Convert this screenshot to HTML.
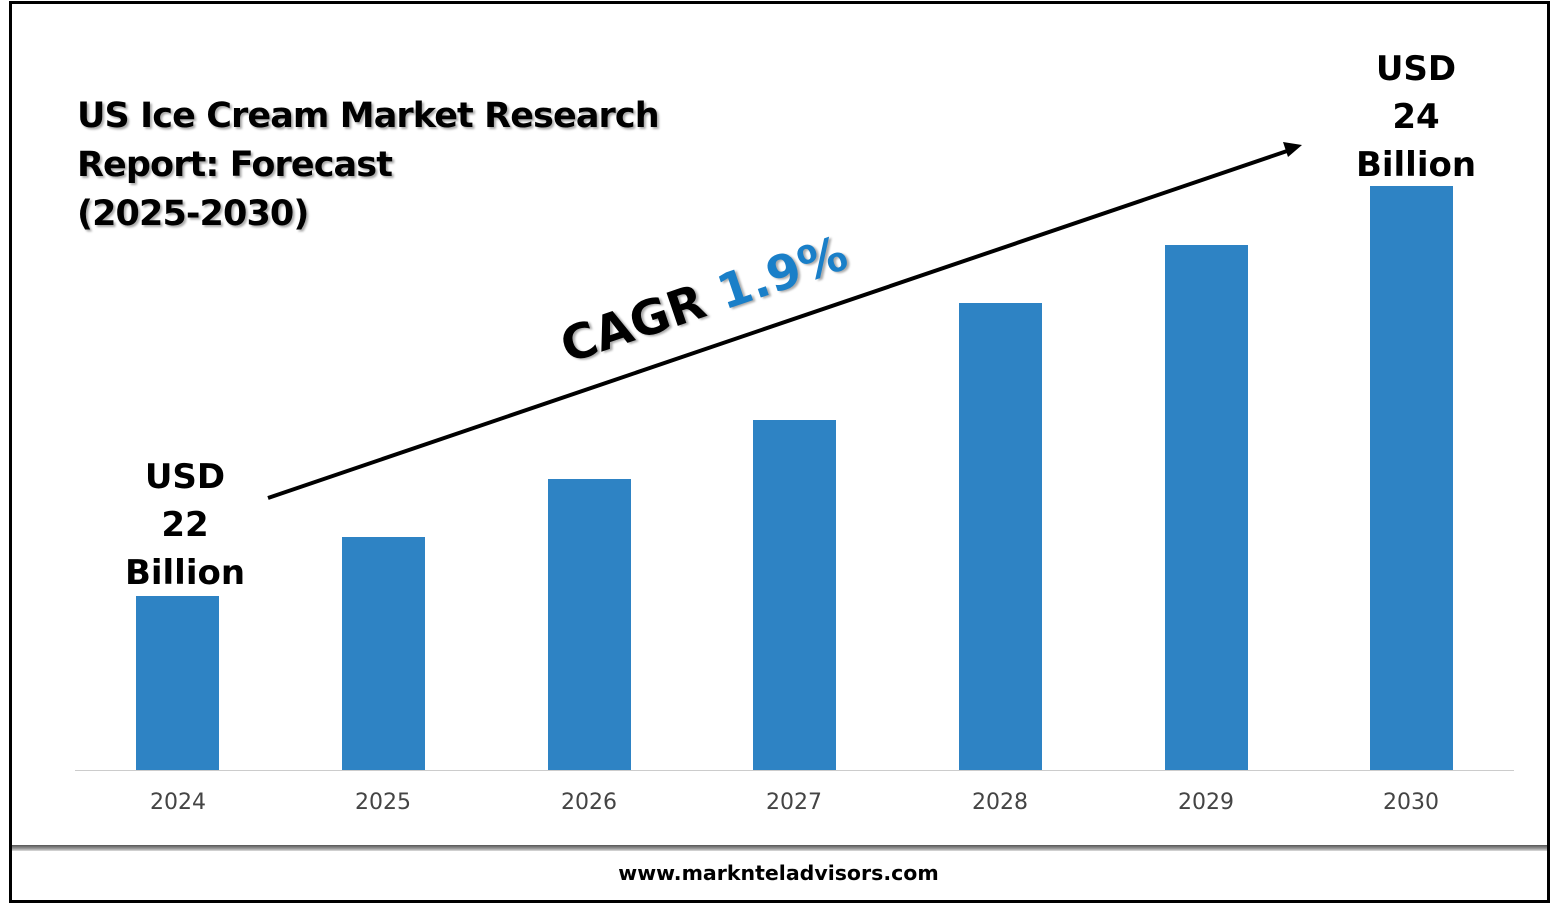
<!DOCTYPE html>
<html><head><style>
body{margin:0;width:1557px;height:905px;background:#fff;position:relative;overflow:hidden;font-family:"DejaVu Sans","Liberation Sans",sans-serif}
.box{position:absolute;left:9px;top:1px;width:1535px;height:896px;border:3px solid #000}
.sh{position:absolute;left:12px;top:845px;width:1535px;height:6px;background:linear-gradient(#555,#999 60%,#ddd)}
.bar{position:absolute;background:#2E83C4;width:83px;bottom:135px}
.yr{position:absolute;top:790px;width:120px;text-align:center;font-size:22px;color:#444}
.lbl{position:absolute;text-align:center;font-weight:bold;font-size:34px;line-height:48px;width:200px}
</style></head><body>
<div class="box"></div>
<div class="sh"></div>
<div style="position:absolute;left:77px;top:92px;font-weight:bold;font-size:35px;line-height:49px;letter-spacing:-0.9px;text-shadow:2px 2px 2px #aaa">US Ice Cream Market Research<br>Report: Forecast<br>(2025-2030)</div>
<div style="position:absolute;left:75px;top:770px;width:1439px;height:1px;background:#ccc"></div>
<div class="bar" style="left:136px;top:596px"></div>
<div class="bar" style="left:342px;top:537px"></div>
<div class="bar" style="left:548px;top:479px"></div>
<div class="bar" style="left:753px;top:420px"></div>
<div class="bar" style="left:959px;top:303px"></div>
<div class="bar" style="left:1165px;top:245px"></div>
<div class="bar" style="left:1370px;top:186px"></div>
<div class="yr" style="left:118px">2024</div>
<div class="yr" style="left:323px">2025</div>
<div class="yr" style="left:529px">2026</div>
<div class="yr" style="left:734px">2027</div>
<div class="yr" style="left:940px">2028</div>
<div class="yr" style="left:1146px">2029</div>
<div class="yr" style="left:1351px">2030</div>
<div class="lbl" style="left:85px;top:453px">USD<br>22<br>Billion</div>
<div class="lbl" style="left:1316px;top:45px">USD<br>24<br>Billion</div>
<svg style="position:absolute;left:0;top:0" width="1557" height="905">
<line x1="268" y1="498" x2="1290" y2="150" stroke="#000" stroke-width="4"/>
<polygon points="1302,145 1283,142 1288,157" fill="#000"/>
</svg>
<div style="position:absolute;left:704px;top:300px;transform:translate(-50%,-50%) rotate(-18.8deg);white-space:nowrap;font-weight:bold;font-size:48px;text-shadow:2px 2px 2px #aaa">CAGR <span style="color:#1a7fc8">1.9%</span></div>
<div style="position:absolute;left:0;width:1557px;top:861px;text-align:center;font-weight:bold;font-size:20.5px">www.marknteladvisors.com</div>
</body></html>
